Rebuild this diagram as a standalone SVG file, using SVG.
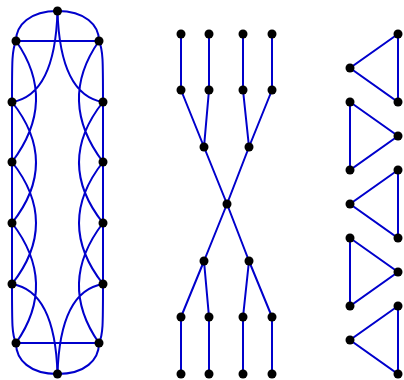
<svg xmlns="http://www.w3.org/2000/svg" width="404" height="380" viewBox="0 0 404 380">
<style>
.e{fill:none;stroke:#0000cc;stroke-width:2}
.n{fill:#000}
</style>
<rect width="404" height="380" fill="#fff"/>
<g id="connectors">
<!-- left graph -->
<path class="e" d="M57.5,11 C30,11 16,25 16,41"/>
<path class="e" d="M57.5,11 C85,11 99,25 99,41"/>
<path class="e" d="M57.5,374 C30,374 16,360 16,343"/>
<path class="e" d="M57.5,374 C85,374 99,360 99,343"/>
<path class="e" d="M16,41 L99,41 M16,343 L99,343"/>
<path class="e" d="M16,41 C12,50 12,60 12,102 L12,284 C12,325 12,335 16,343"/>
<path class="e" d="M99,41 C103,50 103,60 103,102 L103,284 C103,325 103,335 99,343"/>
<path class="e" d="M57.5,11 Q55,95 12,102 M16,41 Q58,101 12,162 M12,102 Q60,162.5 12,223 M12,162 Q60,223 12,284 M12,223 Q58,283 16,343 M12,284 Q55,291 57.5,374"/>
<path class="e" d="M57.5,11 Q60,95 103,102 M99,41 Q57,101 103,162 M103,102 Q55,162.5 103,223 M103,162 Q55,223 103,284 M103,223 Q57,283 99,343 M103,284 Q60,291 57.5,374"/>
<!-- tree -->
<path class="e" d="M181,34V90 M209,34V90 M243,34V90 M272,34V90 M181,90L204,147 M209,90L204,147 M243,90L249,147 M272,90L249,147 M204,147L227,204 M249,147L227,204 M227,204L204,261 M227,204L249,261 M204,261L181,317 M204,261L209,317 M249,261L243,317 M249,261L272,317 M181,317V374 M209,317V374 M243,317V374 M272,317V374"/>
<!-- triangles -->
<path class="e" d="M398,34L350,68L398,102Z M350,102L398,136L350,170Z M398,170L350,204L398,238Z M350,238L398,272L350,306Z M398,306L350,340L398,374Z"/>
</g>
<g id="left-graph">
<circle id="a0" class="n" cx="57.5" cy="11" r="4.5"/>
<circle id="a1" class="n" cx="16" cy="41" r="4.5"/>
<circle id="a2" class="n" cx="99" cy="41" r="4.5"/>
<circle id="a3" class="n" cx="12" cy="102" r="4.5"/>
<circle id="a4" class="n" cx="103" cy="102" r="4.5"/>
<circle id="a5" class="n" cx="12" cy="162" r="4.5"/>
<circle id="a6" class="n" cx="103" cy="162" r="4.5"/>
<circle id="a7" class="n" cx="12" cy="223" r="4.5"/>
<circle id="a8" class="n" cx="103" cy="223" r="4.5"/>
<circle id="a9" class="n" cx="12" cy="284" r="4.5"/>
<circle id="a10" class="n" cx="103" cy="284" r="4.5"/>
<circle id="a11" class="n" cx="16" cy="343" r="4.5"/>
<circle id="a12" class="n" cx="99" cy="343" r="4.5"/>
<circle id="a13" class="n" cx="57.5" cy="374" r="4.5"/>
</g>
<g id="tree">
<circle id="t1" class="n" cx="181" cy="34" r="4.5"/>
<circle id="t2" class="n" cx="209" cy="34" r="4.5"/>
<circle id="t3" class="n" cx="243" cy="34" r="4.5"/>
<circle id="t4" class="n" cx="272" cy="34" r="4.5"/>
<circle id="t5" class="n" cx="181" cy="90" r="4.5"/>
<circle id="t6" class="n" cx="209" cy="90" r="4.5"/>
<circle id="t7" class="n" cx="243" cy="90" r="4.5"/>
<circle id="t8" class="n" cx="272" cy="90" r="4.5"/>
<circle id="t9" class="n" cx="204" cy="147" r="4.5"/>
<circle id="t10" class="n" cx="249" cy="147" r="4.5"/>
<circle id="t11" class="n" cx="227" cy="204" r="4.5"/>
<circle id="t12" class="n" cx="204" cy="261" r="4.5"/>
<circle id="t13" class="n" cx="249" cy="261" r="4.5"/>
<circle id="t14" class="n" cx="181" cy="317" r="4.5"/>
<circle id="t15" class="n" cx="209" cy="317" r="4.5"/>
<circle id="t16" class="n" cx="243" cy="317" r="4.5"/>
<circle id="t17" class="n" cx="272" cy="317" r="4.5"/>
<circle id="t18" class="n" cx="181" cy="374" r="4.5"/>
<circle id="t19" class="n" cx="209" cy="374" r="4.5"/>
<circle id="t20" class="n" cx="243" cy="374" r="4.5"/>
<circle id="t21" class="n" cx="272" cy="374" r="4.5"/>
</g>
<g id="triangles">
<circle id="r1" class="n" cx="398" cy="34" r="4.5"/>
<circle id="r2" class="n" cx="350" cy="68" r="4.5"/>
<circle id="r3" class="n" cx="398" cy="102" r="4.5"/>
<circle id="r4" class="n" cx="350" cy="102" r="4.5"/>
<circle id="r5" class="n" cx="398" cy="136" r="4.5"/>
<circle id="r6" class="n" cx="350" cy="170" r="4.5"/>
<circle id="r7" class="n" cx="398" cy="170" r="4.5"/>
<circle id="r8" class="n" cx="350" cy="204" r="4.5"/>
<circle id="r9" class="n" cx="398" cy="238" r="4.5"/>
<circle id="r10" class="n" cx="350" cy="238" r="4.5"/>
<circle id="r11" class="n" cx="398" cy="272" r="4.5"/>
<circle id="r12" class="n" cx="350" cy="306" r="4.5"/>
<circle id="r13" class="n" cx="398" cy="306" r="4.5"/>
<circle id="r14" class="n" cx="350" cy="340" r="4.5"/>
<circle id="r15" class="n" cx="398" cy="374" r="4.5"/>
</g>
</svg>
